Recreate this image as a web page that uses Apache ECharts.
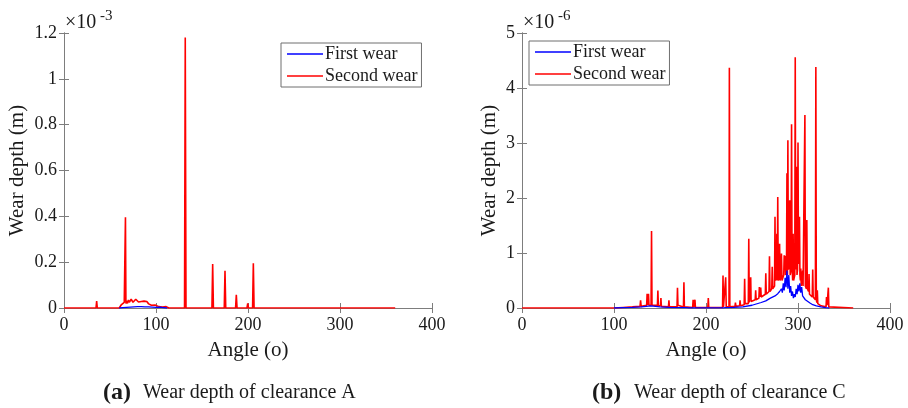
<!DOCTYPE html>
<html>
<head>
<meta charset="utf-8">
<script src="https://cdn.jsdelivr.net/npm/echarts@6/dist/echarts.min.js"></script>
<style>
  html, body { margin: 0; padding: 0; background: #fff; }
  #chart { width: 908px; height: 408px; }
</style>
</head>
<body>
<div id="chart"></div>
<script>
// ---- Clearance A, wear depth in units of 1e-3 m ----
const angleA_first = [60, 64, 68, 72, 76, 80, 84, 88, 92, 96, 100, 104, 108, 112];
const depthA_first = [0, 0.002, 0.003, 0.004, 0.005, 0.006, 0.006, 0.005, 0.005, 0.004, 0.003, 0.004, 0.002, 0];

const angleA_second = [
  0, 34.8, 35.5, 36.2, 60,
  61.5, 62.5, 63.5, 64.5, 65.5,
  66.3, 66.8, 67.3,
  68, 69, 70, 71, 72, 73, 74, 75, 76, 77, 78, 79, 80,
  81, 82, 83, 84, 85, 86, 87, 88, 89, 90, 91, 92,
  93, 95, 97, 99, 101, 103, 105, 107, 109, 111, 113, 114,
  131, 131.8, 132.6,
  160.8, 161.6, 162.4,
  174.2, 175, 175.8,
  186.5, 187.3, 188.1,
  198.9, 199.7, 200.5,
  205, 205.8, 206.6,
  360
];
const depthA_second = [
  0, 0, 0.03, 0, 0,
  0.008, 0.015, 0.01, 0.02, 0.025,
  0.02, 0.396, 0.02,
  0.03, 0.02, 0.035, 0.025, 0.03, 0.038, 0.03, 0.025, 0.028, 0.032, 0.038, 0.035, 0.03,
  0.026, 0.03, 0.025, 0.028, 0.033, 0.036, 0.03, 0.035, 0.038, 0.028, 0.022, 0.018,
  0.02, 0.012, 0.01, 0.013, 0.008, 0.006, 0.008, 0.004, 0.003, 0.006, 0.002, 0,
  0, 1.18, 0,
  0, 0.192, 0,
  0, 0.163, 0,
  0, 0.058, 0,
  0, 0.02, 0,
  0, 0.195, 0,
  0
];

// ---- Clearance C, wear depth in units of 1e-6 m ----
const angleC_first = [
  100, 110, 120, 130, 135, 140, 145, 150, 160, 180,
  200, 220, 230, 240, 250, 260, 265, 270, 275, 278,
  280, 282, 283, 284, 285, 286, 287, 288, 289, 290, 291, 292, 293,
  294, 295, 296, 297, 298, 299, 300, 301, 302, 303, 304, 305, 306,
  308, 310, 313, 316, 320, 325, 330, 334
];
const depthC_first = [
  0, 0.005, 0.01, 0.02, 0.03, 0.04, 0.03, 0.02, 0.01, 0.005,
  0.003, 0.005, 0.01, 0.02, 0.05, 0.1, 0.13, 0.18, 0.22, 0.26,
  0.3, 0.35, 0.28, 0.45, 0.32, 0.55, 0.38, 0.68, 0.35, 0.6, 0.28, 0.4, 0.22,
  0.3, 0.18, 0.25, 0.2, 0.35, 0.25, 0.42, 0.3, 0.45, 0.28, 0.38, 0.22, 0.25,
  0.15, 0.12, 0.09, 0.06, 0.04, 0.02, 0.005, 0
];

const angleC_second = [
  0, 100, 110, 120,
  128.3, 128.9, 129.5,
  135.5, 136, 136.5, 137.5, 138,
  140.3, 140.8, 141.3,
  147.2, 147.7, 148.2,
  150.5, 151, 151.5,
  159.2, 159.7, 160.2,
  168.5, 169, 169.5, 170,
  175.5, 176, 176.5,
  185.5, 186, 186.5, 187.5, 188, 188.5,
  202, 202.5, 203,
  218, 218.5, 219, 221, 221.4, 222,
  225, 225.4, 225.9,
  231.5, 232, 232.5,
  236.5, 237, 237.5,
  241.5, 242, 242.5,
  246, 246.5, 247, 248.2, 248.6, 249,
  253.5, 254, 254.5,
  257.5, 258, 258.7, 259.5, 260,
  264.5, 265, 265.5,
  268.5, 269, 269.5,
  271.5, 272, 272.5,
  274.5, 275, 275.5,
  276.6, 277, 277.5, 278, 278.5,
  279.5, 280, 280.5,
  281.5, 282, 282.6,
  284.5, 285, 285.5, 286, 286.5,
  287.5, 288, 288.5, 289, 289.5,
  290.5, 291, 291.5,
  292.5, 293, 293.5,
  294.2, 294.7, 295.2,
  296.5, 297, 297.5, 298.4, 298.9,
  299.5, 300, 300.5, 301.6, 302.1,
  302.6, 303, 303.5,
  304.5, 305, 305.5,
  307, 307.5, 308,
  309.1, 309.6, 310.1,
  311.5, 312, 312.5,
  315.5, 316, 316.5,
  318.9, 319.4, 319.9,
  320.5, 321, 321.5,
  325,
  330.5, 331, 331.6, 332.5, 333, 333.5,
  335, 360
];
const depthC_second = [
  0, 0, 0.01, 0.02,
  0.03, 0.14, 0.03,
  0.05, 0.26, 0.05, 0.26, 0.05,
  0.05, 1.40, 0.05,
  0.05, 0.32, 0.04,
  0.04, 0.18, 0.03,
  0.02, 0.14, 0.02,
  0.02, 0.37, 0.05, 0.02,
  0.02, 0.47, 0.02,
  0.01, 0.15, 0.01, 0.01, 0.15, 0.01,
  0.01, 0.18, 0.01,
  0.01, 0.59, 0.02, 0.02, 0.56, 0.02,
  0.02, 4.37, 0.02,
  0.03, 0.10, 0.03,
  0.04, 0.14, 0.04,
  0.06, 0.53, 0.08,
  0.08, 1.26, 0.10, 0.10, 0.56, 0.12,
  0.15, 0.32, 0.15,
  0.18, 0.38, 0.20, 0.37, 0.20,
  0.25, 0.63, 0.25,
  0.30, 0.94, 0.30,
  0.35, 0.75, 0.35,
  0.40, 1.66, 0.50,
  0.60, 1.35, 0.50, 2.02, 0.50,
  0.60, 1.17, 0.50,
  0.60, 0.99, 0.50,
  0.60, 0.96, 0.70, 0.95, 0.60,
  0.70, 2.45, 0.60, 3.05, 0.70,
  0.80, 1.96, 0.60,
  0.70, 3.34, 0.80,
  0.50, 1.35, 0.50,
  0.60, 4.56, 0.70, 2.57, 0.60,
  0.70, 3.01, 0.80, 1.66, 0.60,
  0.50, 0.72, 0.40,
  0.40, 0.68, 0.40,
  0.40, 3.51, 0.40,
  0.35, 1.60, 0.35,
  0.30, 0.62, 0.25,
  0.20, 0.70, 0.20,
  0.15, 4.38, 0.15,
  0.10, 0.32, 0.08,
  0.04,
  0.02, 0.20, 0.05, 0.05, 0.37, 0.02,
  0, 0
];

// Axis ranges and labels
const angleRange = { min: 0, max: 400, step: 100 };
const depthRangeA = { min: 0, max: 1.2, step: 0.2 };
const depthRangeC = { min: 0, max: 5, step: 1 };
const seriesNames = ['First wear', 'Second wear'];
const exponentA = '-3';
const exponentC = '-6';
const xTitle = 'Angle (o)';
const yTitle = 'Wear depth (m)';
const captionA = ['(a)', 'Wear depth of clearance A'];
const captionC = ['(b)', 'Wear depth of clearance C'];

const SERIF = '"Liberation Serif", "Times New Roman", serif';
const FRAME = '#7d7d7d';
const INK = '#1a1a1a';

function zip(xs, ys) { return xs.map((x, i) => [x, ys[i]]); }

const grids = [
  { left: 64, top: 33, width: 368, height: 275 },
  { left: 522, top: 33, width: 368, height: 275 }
];

function xAxes(gi) {
  const base = {
    type: 'value', gridIndex: gi,
    min: angleRange.min, max: angleRange.max, interval: angleRange.step,
    splitLine: { show: false },
    axisLine: { show: true, lineStyle: { color: FRAME, width: 1 } },
    axisTick: { show: true, inside: true, length: 5, lineStyle: { color: FRAME } }
  };
  return [
    Object.assign({}, base, {
      position: 'bottom',
      axisLabel: { color: INK, fontFamily: SERIF, fontSize: 18, margin: 8 },
      name: xTitle, nameLocation: 'middle', nameGap: 32,
      nameTextStyle: { color: INK, fontFamily: SERIF, fontSize: 21 }
    }),
    Object.assign({}, base, { position: 'top', axisLabel: { show: false } })
  ];
}

function yAxes(gi, range, nameGap) {
  const base = {
    type: 'value', gridIndex: gi,
    min: range.min, max: range.max, interval: range.step,
    splitLine: { show: false },
    axisLine: { show: true, lineStyle: { color: FRAME, width: 1 } },
    axisTick: { show: true, inside: true, length: 5, lineStyle: { color: FRAME } }
  };
  return [
    Object.assign({}, base, {
      position: 'left',
      axisLabel: { color: INK, fontFamily: SERIF, fontSize: 18, margin: 7 },
      name: yTitle, nameLocation: 'middle', nameGap: nameGap, nameRotate: 90,
      nameTextStyle: { color: INK, fontFamily: SERIF, fontSize: 21 }
    }),
    Object.assign({}, base, { position: 'right', axisLabel: { show: false } })
  ];
}

function lineSeries(name, xi, yi, data, color, width, z) {
  return {
    name: name, type: 'line', xAxisIndex: xi, yAxisIndex: yi,
    data: data, symbol: 'none', showSymbol: false,
    lineStyle: { color: color, width: width }, itemStyle: { color: color },
    z: z, silent: true
  };
}

function legendAt(left, top) {
  return {
    data: seriesNames, left: left, top: top, orient: 'vertical',
    icon: 'rect', itemWidth: 36, itemHeight: 1.5, itemGap: 4,
    padding: [2, 4, 2, 6],
    borderColor: '#6f6f6f', borderWidth: 1, backgroundColor: '#fff',
    textStyle: { color: INK, fontFamily: SERIF, fontSize: 18, lineHeight: 18, padding: [0, 0, 0, -3] },
    selectedMode: false
  };
}

function exponentText(x, exp) {
  return [
    { type: 'text', x: x, y: 23, style: { text: '\u00d710', fontFamily: SERIF, fontSize: 20, fill: INK, align: 'left', verticalAlign: 'middle' } },
    { type: 'text', x: x + 35, y: 16, style: { text: exp, fontFamily: SERIF, fontSize: 15, fill: INK, align: 'left', verticalAlign: 'middle' } }
  ];
}

function captionText(x, parts, gap) {
  return [
    { type: 'text', x: x, y: 393, style: { text: parts[0], fontFamily: SERIF, fontSize: 24, fontWeight: 'bold', fill: INK, align: 'left', verticalAlign: 'middle' } },
    { type: 'text', x: x + gap, y: 393, style: { text: parts[1], fontFamily: SERIF, fontSize: 20, fill: INK, align: 'left', verticalAlign: 'middle' } }
  ];
}

const chart = echarts.init(document.getElementById('chart'), null, { renderer: 'canvas' });
chart.setOption({
  animation: false,
  backgroundColor: '#fff',
  grid: grids,
  xAxis: xAxes(0).concat(xAxes(1)),
  yAxis: yAxes(0, depthRangeA, 36).concat(yAxes(1, depthRangeC, 22)),
  legend: [legendAt(281, 43), legendAt(529, 41)],
  series: [
    lineSeries(seriesNames[1], 0, 0, zip(angleA_second, depthA_second), '#ff0000', 1.6, 2),
    lineSeries(seriesNames[0], 0, 0, zip(angleA_first, depthA_first), '#0000ff', 1.3, 3),
    lineSeries(seriesNames[1], 2, 2, zip(angleC_second, depthC_second), '#ff0000', 1.6, 2),
    lineSeries(seriesNames[0], 2, 2, zip(angleC_first, depthC_first), '#0000ff', 1.3, 3)
  ],
  graphic: [].concat(
    exponentText(65, exponentA),
    exponentText(523, exponentC),
    captionText(103, captionA, 40),
    captionText(592, captionC, 42)
  )
});
</script>
</body>
</html>
